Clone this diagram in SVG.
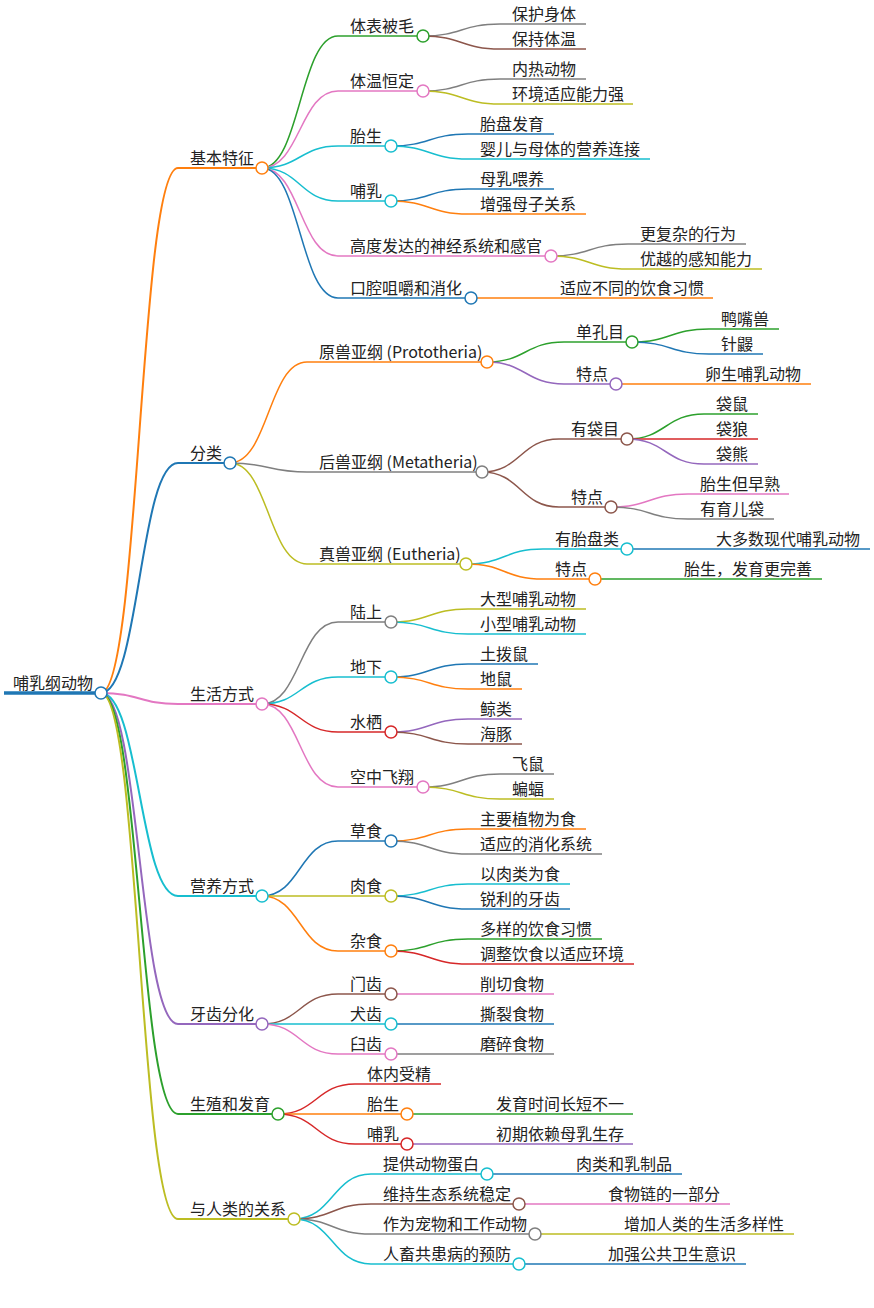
<svg xmlns="http://www.w3.org/2000/svg" width="874" height="1308" viewBox="0 0 874 1308">
<style>
.bl{stroke:#1f77b4}.or{stroke:#ff7f0e}.gr{stroke:#2ca02c}.rd{stroke:#d62728}.pu{stroke:#9467bd}.br{stroke:#8c564b}.pk{stroke:#e377c2}.gy{stroke:#7f7f7f}.ol{stroke:#bcbd22}.cy{stroke:#17becf}
.k path{fill:none;stroke-width:1.5}
.k path.d1{stroke-width:2}
.n line{stroke-width:1.5}
.n.l1 line{stroke-width:2}
.n.root line{stroke-width:3.5}
.n circle{fill:#fff;stroke-width:1.5}
.n text{stroke:none;fill:#222;font-family:"Noto Sans CJK SC","Noto Sans",sans-serif;font-size:16px}
</style>
<rect width="874" height="1308" fill="#fff"/>
<g id="connectors" class="k">
<path class="d1 or" d="M101,693 C139.5,693 139.5,168 178,168"/>
<path class="d1 bl" d="M101,693 C139.5,693 139.5,463 178,463"/>
<path class="d1 pk" d="M101,693 C139.5,693 139.5,704 178,704"/>
<path class="d1 cy" d="M101,693 C139.5,693 139.5,896 178,896"/>
<path class="d1 pu" d="M101,693 C139.5,693 139.5,1024 178,1024"/>
<path class="d1 gr" d="M101,693 C139.5,693 139.5,1114 178,1114"/>
<path class="d1 ol" d="M101,693 C139.5,693 139.5,1219 178,1219"/>
<path class="gr" d="M262,168 C300,168 300,36 338,36"/>
<path class="pk" d="M262,168 C300,168 300,91 338,91"/>
<path class="cy" d="M262,168 C300,168 300,146 338,146"/>
<path class="cy" d="M262,168 C300,168 300,201 338,201"/>
<path class="pk" d="M262,168 C300,168 300,256 338,256"/>
<path class="bl" d="M262,168 C300,168 300,298 338,298"/>
<path class="gy" d="M423,36 C461.5,36 461.5,24 500,24"/>
<path class="br" d="M423,36 C461.5,36 461.5,49 500,49"/>
<path class="gy" d="M423,91 C461.5,91 461.5,79 500,79"/>
<path class="ol" d="M423,91 C461.5,91 461.5,104 500,104"/>
<path class="bl" d="M391,146 C429.5,146 429.5,134 468,134"/>
<path class="cy" d="M391,146 C429.5,146 429.5,159 468,159"/>
<path class="bl" d="M391,201 C429.5,201 429.5,189 468,189"/>
<path class="or" d="M391,201 C429.5,201 429.5,214 468,214"/>
<path class="gy" d="M551,256 C589.5,256 589.5,244 628,244"/>
<path class="ol" d="M551,256 C589.5,256 589.5,269 628,269"/>
<path class="or" d="M471,298 L548,298"/>
<path class="or" d="M230,463 C268.5,463 268.5,362 307,362"/>
<path class="gy" d="M230,463 C268.5,463 268.5,472 307,472"/>
<path class="ol" d="M230,463 C268.5,463 268.5,564 307,564"/>
<path class="gr" d="M487,362 C525.5,362 525.5,342 564,342"/>
<path class="pu" d="M487,362 C525.5,362 525.5,384 564,384"/>
<path class="gr" d="M632,342 C670.5,342 670.5,329 709,329"/>
<path class="bl" d="M632,342 C670.5,342 670.5,354 709,354"/>
<path class="or" d="M616,384 L693,384"/>
<path class="br" d="M482,472 C520.5,472 520.5,439 559,439"/>
<path class="br" d="M482,472 C520.5,472 520.5,507 559,507"/>
<path class="gr" d="M627,439 C665.5,439 665.5,414 704,414"/>
<path class="rd" d="M627,439 L704,439"/>
<path class="pu" d="M627,439 C665.5,439 665.5,464 704,464"/>
<path class="pk" d="M611,507 C649.5,507 649.5,494 688,494"/>
<path class="gy" d="M611,507 C649.5,507 649.5,519 688,519"/>
<path class="cy" d="M466,564 C504.5,564 504.5,549 543,549"/>
<path class="or" d="M466,564 C504.5,564 504.5,579 543,579"/>
<path class="bl" d="M627,549 L704,549"/>
<path class="gr" d="M595,579 L672,579"/>
<path class="gy" d="M262,704 C300,704 300,622 338,622"/>
<path class="cy" d="M262,704 C300,704 300,677 338,677"/>
<path class="rd" d="M262,704 C300,704 300,732 338,732"/>
<path class="pk" d="M262,704 C300,704 300,787 338,787"/>
<path class="ol" d="M391,622 C429.5,622 429.5,609 468,609"/>
<path class="cy" d="M391,622 C429.5,622 429.5,634 468,634"/>
<path class="bl" d="M391,677 C429.5,677 429.5,664 468,664"/>
<path class="or" d="M391,677 C429.5,677 429.5,689 468,689"/>
<path class="pu" d="M391,732 C429.5,732 429.5,719 468,719"/>
<path class="br" d="M391,732 C429.5,732 429.5,744 468,744"/>
<path class="gy" d="M423,787 C461.5,787 461.5,774 500,774"/>
<path class="ol" d="M423,787 C461.5,787 461.5,799 500,799"/>
<path class="bl" d="M262,896 C300,896 300,841 338,841"/>
<path class="ol" d="M262,896 L338,896"/>
<path class="or" d="M262,896 C300,896 300,951 338,951"/>
<path class="or" d="M391,841 C429.5,841 429.5,829 468,829"/>
<path class="gy" d="M391,841 C429.5,841 429.5,854 468,854"/>
<path class="cy" d="M391,896 C429.5,896 429.5,884 468,884"/>
<path class="bl" d="M391,896 C429.5,896 429.5,909 468,909"/>
<path class="gr" d="M391,951 C429.5,951 429.5,939 468,939"/>
<path class="rd" d="M391,951 C429.5,951 429.5,964 468,964"/>
<path class="br" d="M262,1024 C300,1024 300,994 338,994"/>
<path class="cy" d="M262,1024 L338,1024"/>
<path class="pk" d="M262,1024 C300,1024 300,1054 338,1054"/>
<path class="pk" d="M391,994 L468,994"/>
<path class="bl" d="M391,1024 L468,1024"/>
<path class="gy" d="M391,1054 L468,1054"/>
<path class="rd" d="M278,1114 C316.5,1114 316.5,1084 355,1084"/>
<path class="or" d="M278,1114 L355,1114"/>
<path class="rd" d="M278,1114 C316.5,1114 316.5,1144 355,1144"/>
<path class="gr" d="M407,1114 L484,1114"/>
<path class="pu" d="M407,1144 L484,1144"/>
<path class="cy" d="M294,1219 C332.5,1219 332.5,1174 371,1174"/>
<path class="br" d="M294,1219 C332.5,1219 332.5,1204 371,1204"/>
<path class="gy" d="M294,1219 C332.5,1219 332.5,1234 371,1234"/>
<path class="cy" d="M294,1219 C332.5,1219 332.5,1264 371,1264"/>
<path class="bl" d="M487,1174 L564,1174"/>
<path class="pk" d="M519,1204 L596,1204"/>
<path class="ol" d="M535,1234 L612,1234"/>
<path class="bl" d="M519,1264 L596,1264"/>
</g>
<g id="root" class="n root bl"><line x1="4" y1="693" x2="101" y2="693"/><text x="13" y="689">哺乳纲动物</text><circle cx="101" cy="693" r="6"/></g>
<g id="n-A" class="n l1 or"><line x1="178" y1="168" x2="262" y2="168"/><text x="190" y="164">基本特征</text><circle cx="262" cy="168" r="6"/></g>
<g id="n-A1" class="n gr"><line x1="338" y1="36" x2="423" y2="36"/><text x="350" y="32">体表被毛</text><circle cx="423" cy="36" r="6"/></g>
<g id="n-A1a" class="n gy"><line x1="500" y1="24" x2="586" y2="24"/><text x="512" y="20">保护身体</text></g>
<g id="n-A1b" class="n br"><line x1="500" y1="49" x2="586" y2="49"/><text x="512" y="45">保持体温</text></g>
<g id="n-A2" class="n pk"><line x1="338" y1="91" x2="423" y2="91"/><text x="350" y="87">体温恒定</text><circle cx="423" cy="91" r="6"/></g>
<g id="n-A2a" class="n gy"><line x1="500" y1="79" x2="586" y2="79"/><text x="512" y="75">内热动物</text></g>
<g id="n-A2b" class="n ol"><line x1="500" y1="104" x2="633" y2="104"/><text x="512" y="100">环境适应能力强</text></g>
<g id="n-A3" class="n cy"><line x1="338" y1="146" x2="391" y2="146"/><text x="350" y="142">胎生</text><circle cx="391" cy="146" r="6"/></g>
<g id="n-A3a" class="n bl"><line x1="468" y1="134" x2="554" y2="134"/><text x="480" y="130">胎盘发育</text></g>
<g id="n-A3b" class="n cy"><line x1="468" y1="159" x2="650" y2="159"/><text x="480" y="155">婴儿与母体的营养连接</text></g>
<g id="n-A4" class="n cy"><line x1="338" y1="201" x2="391" y2="201"/><text x="350" y="197">哺乳</text><circle cx="391" cy="201" r="6"/></g>
<g id="n-A4a" class="n bl"><line x1="468" y1="189" x2="554" y2="189"/><text x="480" y="185">母乳喂养</text></g>
<g id="n-A4b" class="n or"><line x1="468" y1="214" x2="586" y2="214"/><text x="480" y="210">增强母子关系</text></g>
<g id="n-A5" class="n pk"><line x1="338" y1="256" x2="551" y2="256"/><text x="350" y="252">高度发达的神经系统和感官</text><circle cx="551" cy="256" r="6"/></g>
<g id="n-A5a" class="n gy"><line x1="628" y1="244" x2="746" y2="244"/><text x="640" y="240">更复杂的行为</text></g>
<g id="n-A5b" class="n ol"><line x1="628" y1="269" x2="762" y2="269"/><text x="640" y="265">优越的感知能力</text></g>
<g id="n-A6" class="n bl"><line x1="338" y1="298" x2="471" y2="298"/><text x="350" y="294">口腔咀嚼和消化</text><circle cx="471" cy="298" r="6"/></g>
<g id="n-A6a" class="n or"><line x1="548" y1="298" x2="713" y2="298"/><text x="560" y="294">适应不同的饮食习惯</text></g>
<g id="n-B" class="n l1 bl"><line x1="178" y1="463" x2="230" y2="463"/><text x="190" y="459">分类</text><circle cx="230" cy="463" r="6"/></g>
<g id="n-B1" class="n or"><line x1="307" y1="362" x2="487" y2="362"/><text x="319" y="358">原兽亚纲 (Prototheria)</text><circle cx="487" cy="362" r="6"/></g>
<g id="n-B1a" class="n gr"><line x1="564" y1="342" x2="632" y2="342"/><text x="576" y="338">单孔目</text><circle cx="632" cy="342" r="6"/></g>
<g id="n-B1a1" class="n gr"><line x1="709" y1="329" x2="779" y2="329"/><text x="721" y="325">鸭嘴兽</text></g>
<g id="n-B1a2" class="n bl"><line x1="709" y1="354" x2="763" y2="354"/><text x="721" y="350">针鼹</text></g>
<g id="n-B1b" class="n pu"><line x1="564" y1="384" x2="616" y2="384"/><text x="576" y="380">特点</text><circle cx="616" cy="384" r="6"/></g>
<g id="n-B1b1" class="n or"><line x1="693" y1="384" x2="811" y2="384"/><text x="705" y="380">卵生哺乳动物</text></g>
<g id="n-B2" class="n gy"><line x1="307" y1="472" x2="482" y2="472"/><text x="319" y="468">后兽亚纲 (Metatheria)</text><circle cx="482" cy="472" r="6"/></g>
<g id="n-B2a" class="n br"><line x1="559" y1="439" x2="627" y2="439"/><text x="571" y="435">有袋目</text><circle cx="627" cy="439" r="6"/></g>
<g id="n-B2a1" class="n gr"><line x1="704" y1="414" x2="758" y2="414"/><text x="716" y="410">袋鼠</text></g>
<g id="n-B2a2" class="n rd"><line x1="704" y1="439" x2="758" y2="439"/><text x="716" y="435">袋狼</text></g>
<g id="n-B2a3" class="n pu"><line x1="704" y1="464" x2="758" y2="464"/><text x="716" y="460">袋熊</text></g>
<g id="n-B2b" class="n br"><line x1="559" y1="507" x2="611" y2="507"/><text x="571" y="503">特点</text><circle cx="611" cy="507" r="6"/></g>
<g id="n-B2b1" class="n pk"><line x1="688" y1="494" x2="789" y2="494"/><text x="700" y="490">胎生但早熟</text></g>
<g id="n-B2b2" class="n gy"><line x1="688" y1="519" x2="774" y2="519"/><text x="700" y="515">有育儿袋</text></g>
<g id="n-B3" class="n ol"><line x1="307" y1="564" x2="466" y2="564"/><text x="319" y="560">真兽亚纲 (Eutheria)</text><circle cx="466" cy="564" r="6"/></g>
<g id="n-B3a" class="n cy"><line x1="543" y1="549" x2="627" y2="549"/><text x="555" y="545">有胎盘类</text><circle cx="627" cy="549" r="6"/></g>
<g id="n-B3a1" class="n bl"><line x1="704" y1="549" x2="870" y2="549"/><text x="716" y="545">大多数现代哺乳动物</text></g>
<g id="n-B3b" class="n or"><line x1="543" y1="579" x2="595" y2="579"/><text x="555" y="575">特点</text><circle cx="595" cy="579" r="6"/></g>
<g id="n-B3b1" class="n gr"><line x1="672" y1="579" x2="822" y2="579"/><text x="684" y="575">胎生，发育更完善</text></g>
<g id="n-C" class="n l1 pk"><line x1="178" y1="704" x2="262" y2="704"/><text x="190" y="700">生活方式</text><circle cx="262" cy="704" r="6"/></g>
<g id="n-C1" class="n gy"><line x1="338" y1="622" x2="391" y2="622"/><text x="350" y="618">陆上</text><circle cx="391" cy="622" r="6"/></g>
<g id="n-C1a" class="n ol"><line x1="468" y1="609" x2="586" y2="609"/><text x="480" y="605">大型哺乳动物</text></g>
<g id="n-C1b" class="n cy"><line x1="468" y1="634" x2="586" y2="634"/><text x="480" y="630">小型哺乳动物</text></g>
<g id="n-C2" class="n cy"><line x1="338" y1="677" x2="391" y2="677"/><text x="350" y="673">地下</text><circle cx="391" cy="677" r="6"/></g>
<g id="n-C2a" class="n bl"><line x1="468" y1="664" x2="538" y2="664"/><text x="480" y="660">土拨鼠</text></g>
<g id="n-C2b" class="n or"><line x1="468" y1="689" x2="522" y2="689"/><text x="480" y="685">地鼠</text></g>
<g id="n-C3" class="n rd"><line x1="338" y1="732" x2="391" y2="732"/><text x="350" y="728">水栖</text><circle cx="391" cy="732" r="6"/></g>
<g id="n-C3a" class="n pu"><line x1="468" y1="719" x2="522" y2="719"/><text x="480" y="715">鲸类</text></g>
<g id="n-C3b" class="n br"><line x1="468" y1="744" x2="522" y2="744"/><text x="480" y="740">海豚</text></g>
<g id="n-C4" class="n pk"><line x1="338" y1="787" x2="423" y2="787"/><text x="350" y="783">空中飞翔</text><circle cx="423" cy="787" r="6"/></g>
<g id="n-C4a" class="n gy"><line x1="500" y1="774" x2="554" y2="774"/><text x="512" y="770">飞鼠</text></g>
<g id="n-C4b" class="n ol"><line x1="500" y1="799" x2="554" y2="799"/><text x="512" y="795">蝙蝠</text></g>
<g id="n-D" class="n l1 cy"><line x1="178" y1="896" x2="262" y2="896"/><text x="190" y="892">营养方式</text><circle cx="262" cy="896" r="6"/></g>
<g id="n-D1" class="n bl"><line x1="338" y1="841" x2="391" y2="841"/><text x="350" y="837">草食</text><circle cx="391" cy="841" r="6"/></g>
<g id="n-D1a" class="n or"><line x1="468" y1="829" x2="586" y2="829"/><text x="480" y="825">主要植物为食</text></g>
<g id="n-D1b" class="n gy"><line x1="468" y1="854" x2="602" y2="854"/><text x="480" y="850">适应的消化系统</text></g>
<g id="n-D2" class="n ol"><line x1="338" y1="896" x2="391" y2="896"/><text x="350" y="892">肉食</text><circle cx="391" cy="896" r="6"/></g>
<g id="n-D2a" class="n cy"><line x1="468" y1="884" x2="570" y2="884"/><text x="480" y="880">以肉类为食</text></g>
<g id="n-D2b" class="n bl"><line x1="468" y1="909" x2="570" y2="909"/><text x="480" y="905">锐利的牙齿</text></g>
<g id="n-D3" class="n or"><line x1="338" y1="951" x2="391" y2="951"/><text x="350" y="947">杂食</text><circle cx="391" cy="951" r="6"/></g>
<g id="n-D3a" class="n gr"><line x1="468" y1="939" x2="602" y2="939"/><text x="480" y="935">多样的饮食习惯</text></g>
<g id="n-D3b" class="n rd"><line x1="468" y1="964" x2="634" y2="964"/><text x="480" y="960">调整饮食以适应环境</text></g>
<g id="n-E" class="n l1 pu"><line x1="178" y1="1024" x2="262" y2="1024"/><text x="190" y="1020">牙齿分化</text><circle cx="262" cy="1024" r="6"/></g>
<g id="n-E1" class="n br"><line x1="338" y1="994" x2="391" y2="994"/><text x="350" y="990">门齿</text><circle cx="391" cy="994" r="6"/></g>
<g id="n-E1a" class="n pk"><line x1="468" y1="994" x2="554" y2="994"/><text x="480" y="990">削切食物</text></g>
<g id="n-E2" class="n cy"><line x1="338" y1="1024" x2="391" y2="1024"/><text x="350" y="1020">犬齿</text><circle cx="391" cy="1024" r="6"/></g>
<g id="n-E2a" class="n bl"><line x1="468" y1="1024" x2="554" y2="1024"/><text x="480" y="1020">撕裂食物</text></g>
<g id="n-E3" class="n pk"><line x1="338" y1="1054" x2="391" y2="1054"/><text x="350" y="1050">臼齿</text><circle cx="391" cy="1054" r="6"/></g>
<g id="n-E3a" class="n gy"><line x1="468" y1="1054" x2="554" y2="1054"/><text x="480" y="1050">磨碎食物</text></g>
<g id="n-F" class="n l1 gr"><line x1="178" y1="1114" x2="278" y2="1114"/><text x="190" y="1110">生殖和发育</text><circle cx="278" cy="1114" r="6"/></g>
<g id="n-F1" class="n rd"><line x1="355" y1="1084" x2="441" y2="1084"/><text x="367" y="1080">体内受精</text></g>
<g id="n-F2" class="n or"><line x1="355" y1="1114" x2="407" y2="1114"/><text x="367" y="1110">胎生</text><circle cx="407" cy="1114" r="6"/></g>
<g id="n-F2a" class="n gr"><line x1="484" y1="1114" x2="633" y2="1114"/><text x="496" y="1110">发育时间长短不一</text></g>
<g id="n-F3" class="n rd"><line x1="355" y1="1144" x2="407" y2="1144"/><text x="367" y="1140">哺乳</text><circle cx="407" cy="1144" r="6"/></g>
<g id="n-F3a" class="n pu"><line x1="484" y1="1144" x2="633" y2="1144"/><text x="496" y="1140">初期依赖母乳生存</text></g>
<g id="n-G" class="n l1 ol"><line x1="178" y1="1219" x2="294" y2="1219"/><text x="190" y="1215">与人类的关系</text><circle cx="294" cy="1219" r="6"/></g>
<g id="n-G1" class="n cy"><line x1="371" y1="1174" x2="487" y2="1174"/><text x="383" y="1170">提供动物蛋白</text><circle cx="487" cy="1174" r="6"/></g>
<g id="n-G1a" class="n bl"><line x1="564" y1="1174" x2="682" y2="1174"/><text x="576" y="1170">肉类和乳制品</text></g>
<g id="n-G2" class="n br"><line x1="371" y1="1204" x2="519" y2="1204"/><text x="383" y="1200">维持生态系统稳定</text><circle cx="519" cy="1204" r="6"/></g>
<g id="n-G2a" class="n pk"><line x1="596" y1="1204" x2="730" y2="1204"/><text x="608" y="1200">食物链的一部分</text></g>
<g id="n-G3" class="n gy"><line x1="371" y1="1234" x2="535" y2="1234"/><text x="383" y="1230">作为宠物和工作动物</text><circle cx="535" cy="1234" r="6"/></g>
<g id="n-G3a" class="n ol"><line x1="612" y1="1234" x2="794" y2="1234"/><text x="624" y="1230">增加人类的生活多样性</text></g>
<g id="n-G4" class="n cy"><line x1="371" y1="1264" x2="519" y2="1264"/><text x="383" y="1260">人畜共患病的预防</text><circle cx="519" cy="1264" r="6"/></g>
<g id="n-G4a" class="n bl"><line x1="596" y1="1264" x2="746" y2="1264"/><text x="608" y="1260">加强公共卫生意识</text></g>
</svg>
